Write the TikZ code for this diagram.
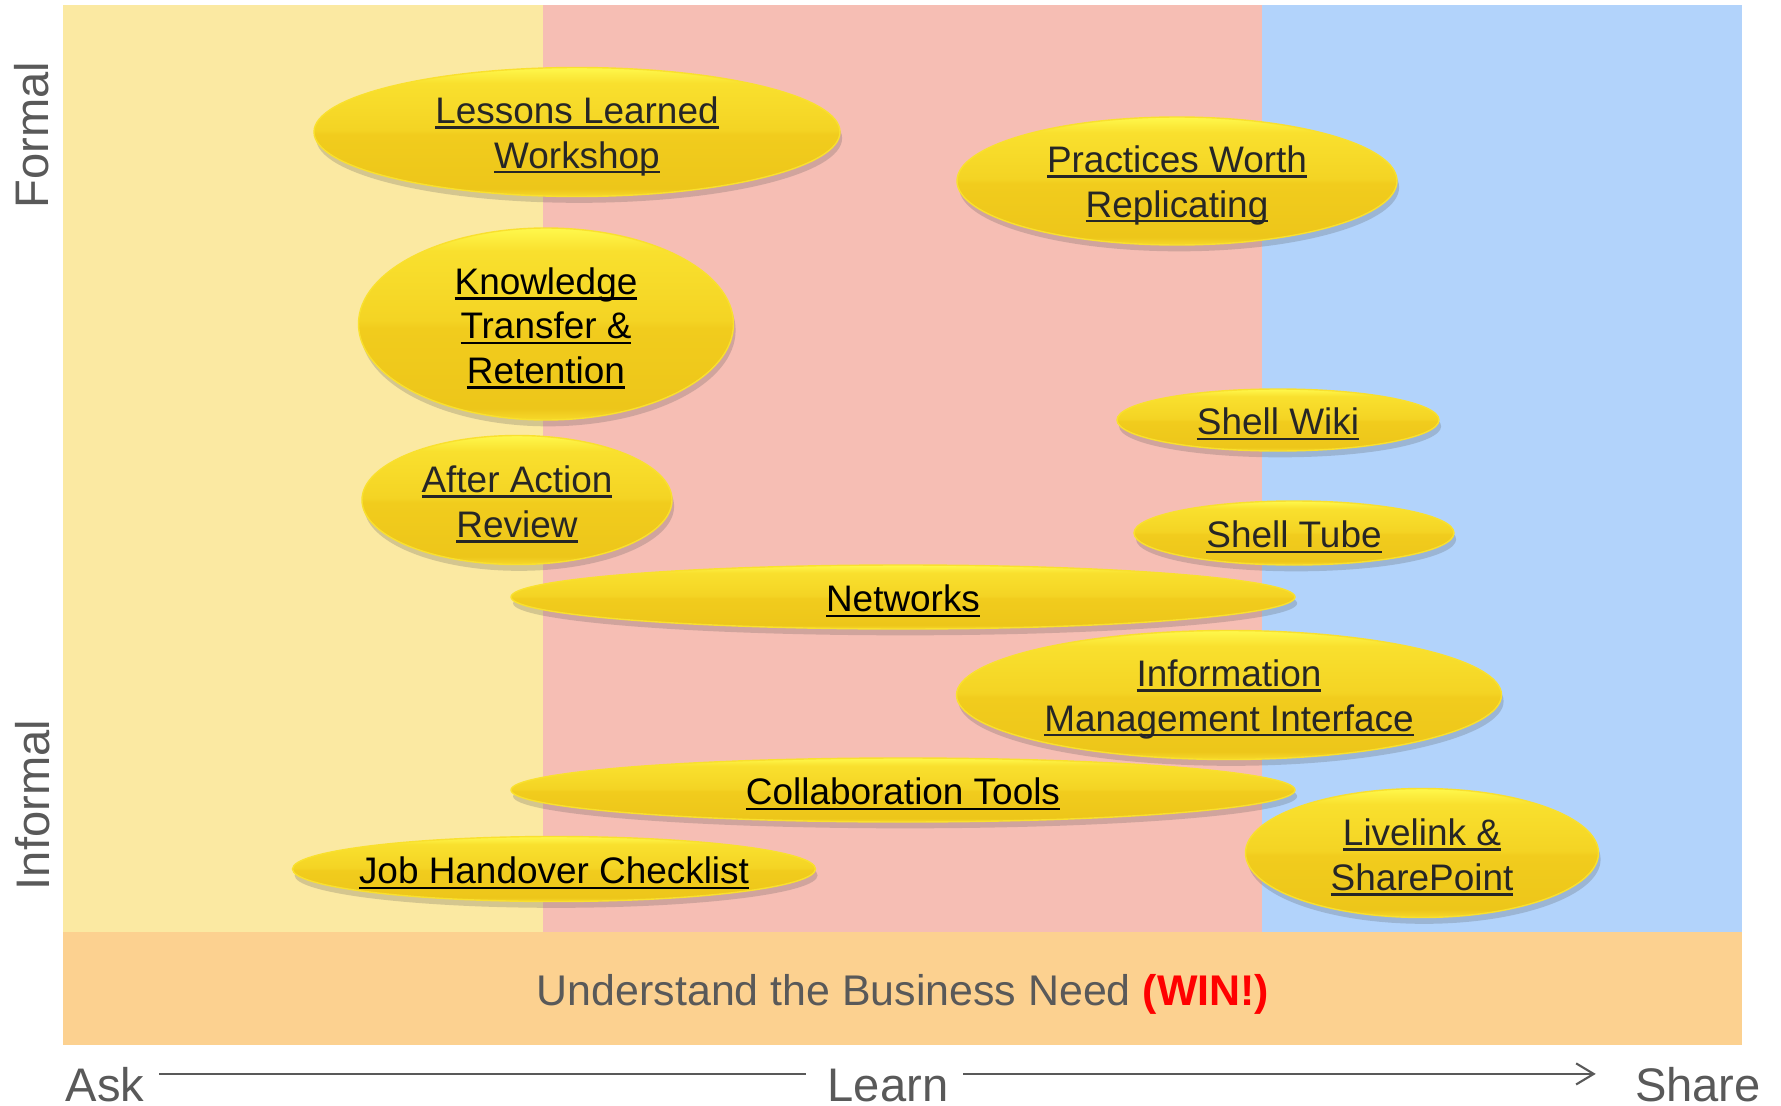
\documentclass[tikz,border=0pt]{standalone}
\usepackage{fontspec}
\setmainfont{Liberation Sans}
\usepackage{tikz}
\usetikzlibrary{arrows.meta,shapes,shadows}

\definecolor{askzone}{HTML}{FBE9A2}
\definecolor{learnzone}{HTML}{F6BEB4}
\definecolor{sharezone}{HTML}{B2D3FB}
\definecolor{needband}{HTML}{FCD190}
\definecolor{axisgray}{HTML}{595959}
\definecolor{txtgray}{HTML}{262626}
\definecolor{winred}{HTML}{FF0000}
\definecolor{goldtop}{HTML}{FFF84C}
\definecolor{goldrim}{HTML}{F9E02E}
\definecolor{goldhi}{HTML}{F4D424}
\definecolor{gold}{HTML}{F1CC1D}
\definecolor{goldlow}{HTML}{EDC61A}
\definecolor{goldbot}{HTML}{F7D92A}

% glossy yellow fill, bottom to top
\pgfdeclareverticalshading{bubbleshade}{100bp}{color(0bp)=(goldbot); color(25bp)=(goldbot);
  color(28bp)=(goldlow); color(49bp)=(gold); color(51bp)=(goldhi); color(69bp)=(goldrim);
  color(75bp)=(goldtop); color(100bp)=(goldtop)}

% underline at a fixed depth, through the descenders
\newcommand{\linkul}[1]{\leavevmode\setbox0=\hbox{#1}\rlap{\rule[-1.5pt]{\wd0}{0.75pt}}\box0}

\tikzstyle{bubble}=[ellipse,inner sep=0pt,shading=bubbleshade,shade,draw=goldrim,line width=0.4pt,
  drop shadow={shadow xshift=0.6pt,shadow yshift=-1.8pt,fill=black!70,opacity=0.22}]
\tikzstyle{bubbletext}=[inner sep=0pt,align=center,font=\fontsize{10.5}{12.7}\selectfont]
\tikzstyle{axislabel}=[text=axisgray,font=\fontsize{13.4}{16}\selectfont,inner sep=0pt]
\tikzstyle{stage}=[axislabel,anchor=base,text height=15.4pt,text depth=0pt]
\tikzstyle{axisline}=[draw=axisgray,line width=0.6pt]

\begin{document}
\begin{tikzpicture}[x=0.01cm,y=-0.01cm]
    \useasboundingbox (0,0) rectangle (1781,1106);
    % Background zones and the band below them
    \fill[askzone] (63,5) rectangle (543,932);
    \fill[learnzone] (543,5) rectangle (1262,932);
    \fill[sharezone] (1262,5) rectangle (1742,932);
    \fill[needband] (63,932) rectangle (1742,1045);
    \node[anchor=base,text=axisgray,font=\fontsize{12.2}{15}\selectfont] (need) at (903,1005)
        {Understand the Business Need \textcolor{winred}{\textbf{(WIN!)}}};

    % Formal / informal scale on the left
    \node[axislabel,rotate=90,anchor=base] (formal) at (48,135) {Formal};
    \node[axislabel,rotate=90,anchor=base] (informal) at (49,805) {Informal};

    % The yellow bubbles, text set a little below centre
    \foreach \name/\x/\y/\w/\h/\ink/\txt in {
        lessons/577/132/526/129/txtgray/{\linkul{Lessons Learned}\\\linkul{Workshop}},
        practices/1177/181/440/128/txtgray/{\linkul{Practices Worth}\\\linkul{Replicating}},
        knowledge/546/324/375/192/black/{\linkul{Knowledge}\\\linkul{Transfer \&}\\\linkul{Retention}},
        wiki/1278/420/322/62/txtgray/{\linkul{Shell Wiki}},
        aar/517/500/310/129/txtgray/{\linkul{After Action}\\\linkul{Review}},
        tube/1294/533/320/64/txtgray/{\linkul{Shell Tube}},
        networks/903/597/784/64/black/{\linkul{Networks}},
        info/1229/695/545/129/txtgray/{\linkul{Information}\\\linkul{Management Interface}},
        collab/903/790/784/64/black/{\linkul{Collaboration Tools}},
        livelink/1422/853/353/129/txtgray/{\linkul{Livelink \&}\\\linkul{SharePoint}},
        handover/554/869/523/65/black/{\linkul{Job Handover Checklist}}}
    {
        \node[bubble,minimum width=\w*0.01cm,minimum height=\h*0.01cm] (\name) at (\x,\y) {};
        \node[bubbletext,text=\ink] (\name-txt) at ([yshift=-1.2pt]\name.center) {\txt};
    }

    % Ask - Learn - Share axis
    \node[stage] (ask) at (105,1101) {Ask};
    \node[stage] (learn) at (888,1101) {Learn};
    \node[stage] (share) at (1698,1101) {Share};
    \path[axisline] (ask.east) ++(4pt,0) -- ([xshift=-6pt]learn.west);
    \path[axisline,-{Straight Barb[length=5pt,width=6pt]}] ([xshift=4pt]learn.east) -- ([xshift=-11pt]share.west);
\end{tikzpicture}
\end{document}
